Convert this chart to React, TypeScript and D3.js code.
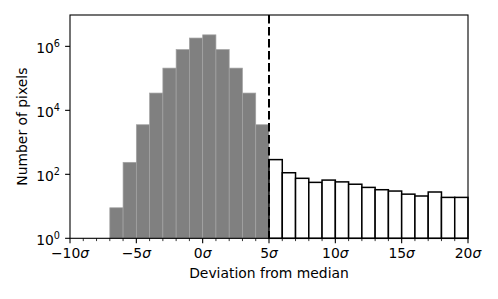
import React, { useEffect, useRef } from 'react';
import * as d3 from 'd3';

// bin edges run from -7 to 20 in steps of 1 sigma
const coreStarts = [-7, -6, -5, -4, -3, -2, -1, 0, 1, 2, 3, 4];
const coreCounts = [9, 237, 3550, 34700, 209000, 794000, 1820000, 2290000, 794000, 209000, 34700, 3550];
const tailStarts = [5, 6, 7, 8, 9, 10, 11, 12, 13, 14, 15, 16, 17, 18, 19];
const tailCounts = [288, 112, 75, 56, 66, 58, 49, 39, 33, 30, 24, 21, 28, 19, 19];
const xMajor = [-10, -5, 0, 5, 10, 15, 20];
const yMajor = [0, 2, 4, 6];
const threshold = 5;

const App: React.FC = () => {
  const ref = useRef<SVGSVGElement>(null);

  useEffect(() => {
    if (!ref.current) return;
    const svg = d3.select(ref.current);
    svg.selectAll('*').remove();

    const left = 70, right = 468, top = 15, bottom = 238.3;
    const x = d3.scaleLinear().domain([-10, 20]).range([left, right]);
    const y = d3.scaleLog().domain([1, Math.pow(10, 6.98)]).range([bottom, top]);
    const font = 'DejaVu Sans, sans-serif';
    const fs = '13.9px';

    // gray core bars
    svg.append('g')
      .selectAll('rect')
      .data(coreStarts)
      .enter().append('rect')
      .attr('x', d => x(d))
      .attr('width', d => x(d + 1) - x(d))
      .attr('y', (d, i) => y(coreCounts[i]))
      .attr('height', (d, i) => bottom - y(coreCounts[i]))
      .attr('fill', '#808080')
      .attr('stroke', '#a3a3a3')
      .attr('stroke-width', 0.7);

    // open tail bars
    svg.append('g')
      .selectAll('rect')
      .data(tailStarts)
      .enter().append('rect')
      .attr('x', d => x(d))
      .attr('width', d => x(d + 1) - x(d))
      .attr('y', (d, i) => y(tailCounts[i]))
      .attr('height', (d, i) => bottom - y(tailCounts[i]))
      .attr('fill', 'white')
      .attr('stroke', 'black')
      .attr('stroke-width', 1.5);

    // threshold line
    svg.append('line')
      .attr('x1', x(threshold)).attr('x2', x(threshold))
      .attr('y1', top).attr('y2', bottom)
      .attr('stroke', 'black')
      .attr('stroke-width', 2)
      .attr('stroke-dasharray', '8.5,3.5');

    // frame
    svg.append('rect')
      .attr('x', left).attr('y', top)
      .attr('width', right - left).attr('height', bottom - top)
      .attr('fill', 'none')
      .attr('stroke', 'black')
      .attr('stroke-width', 1.1);

    // x ticks
    const minor = d3.range(-10, 21).filter(v => v % 5 !== 0);
    svg.append('g').selectAll('line')
      .data(minor)
      .enter().append('line')
      .attr('x1', d => x(d)).attr('x2', d => x(d))
      .attr('y1', bottom).attr('y2', bottom + 2.8)
      .attr('stroke', 'black').attr('stroke-width', 0.8);
    const xt = svg.append('g').selectAll('g')
      .data(xMajor)
      .enter().append('g')
      .attr('transform', d => `translate(${x(d)},${bottom})`);
    xt.append('line').attr('y2', 4.9).attr('stroke', 'black').attr('stroke-width', 1.1);
    const xl = xt.append('text')
      .attr('y', 20)
      .attr('text-anchor', 'middle')
      .style('font-family', font)
      .style('font-size', fs);
    xl.append('tspan').text(d => (d < 0 ? '\u2212' + Math.abs(d) : String(d)));
    xl.append('tspan').style('font-style', 'italic').text('\u03c3');

    // y ticks
    const yt = svg.append('g').selectAll('g')
      .data(yMajor)
      .enter().append('g')
      .attr('transform', d => `translate(${left},${y(Math.pow(10, d))})`);
    yt.append('line').attr('x2', -4.9).attr('stroke', 'black').attr('stroke-width', 1.1);
    const yl = yt.append('text')
      .attr('x', -10)
      .attr('y', 6.3)
      .attr('text-anchor', 'end')
      .style('font-family', font)
      .style('font-size', fs);
    yl.append('tspan').text('10');
    yl.append('tspan').attr('dy', -6).style('font-size', '9.7px').text(d => String(d));

    // axis labels
    svg.append('text')
      .attr('x', (left + right) / 2)
      .attr('y', 278)
      .attr('text-anchor', 'middle')
      .style('font-family', font)
      .style('font-size', fs)
      .text('Deviation from median');

    svg.append('text')
      .attr('transform', `translate(27,${(top + bottom) / 2}) rotate(-90)`)
      .attr('text-anchor', 'middle')
      .style('font-family', font)
      .style('font-size', fs)
      .text('Number of pixels');
  }, []);

  return (
    <svg
      ref={ref}
      width={498}
      height={299}
      style={{ position: 'absolute', left: 0, top: 0, background: 'white' }}
    />
  );
};

export default App;
